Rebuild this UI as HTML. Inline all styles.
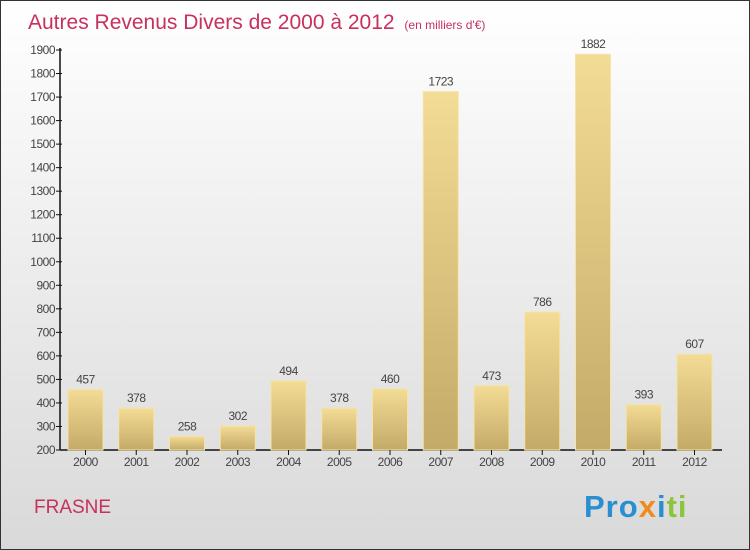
<!DOCTYPE html>
<html><head><meta charset="utf-8"><style>
body{margin:0}
svg{display:block;font-family:"Liberation Sans",sans-serif}
</style></head><body>
<svg id="c" width="750" height="550">
<defs>
<linearGradient id="bg" x1="0" y1="0" x2="0" y2="1"><stop offset="0" stop-color="#ffffff"/><stop offset="1" stop-color="#d9d9d9"/></linearGradient>
<linearGradient id="bar" x1="0" y1="0" x2="0" y2="1"><stop offset="0" stop-color="#f3dc95"/><stop offset="1" stop-color="#c4aa68"/></linearGradient>
</defs>
<rect x="0.5" y="0.5" width="749" height="549" fill="url(#bg)" stroke="#333"/>
<text x="28" y="29" font-size="21" fill="#c8305e">Autres Revenus Divers de 2000 à 2012 <tspan font-size="12" dx="4">(en milliers d'€)</tspan></text>
<text x="34" y="513" font-size="19" fill="#c8305e">FRASNE</text>
<text x="584" y="517" font-size="31" font-weight="bold" letter-spacing="1"><tspan fill="#2a8fd0">Pro</tspan><tspan fill="#f08a1c">x</tspan><tspan fill="#2a8fd0">i</tspan><tspan fill="#8cc43c">ti</tspan></text>
<g id="plot"></g>
</svg>
<script>
const categories=["2000","2001","2002","2003","2004","2005","2006","2007","2008","2009","2010","2011","2012"];
const values=[457,378,258,302,494,378,460,1723,473,786,1882,393,607];
const ticks=[200,300,400,500,600,700,800,900,1000,1100,1200,1300,1400,1500,1600,1700,1800,1900];
const NS="http://www.w3.org/2000/svg";
const g=document.getElementById('plot');
const y=v=>450-(v-200)*400/1700;
const x=i=>85.5+i*50.75;
function mk(t,a){const e=document.createElementNS(NS,t);for(const k in a)e.setAttribute(k,a[k]);g.appendChild(e);return e;}
let ax=mk('line',{x1:60,y1:450,x2:60,y2:48,stroke:'#111','stroke-width':1.5});


let bx=mk('line',{x1:60,y1:450,x2:722,y2:450,stroke:'#111','stroke-width':1.5});


ticks.forEach(t=>{
 const tk=mk('line',{x1:56,x2:62,y1:y(t),y2:y(t),stroke:'#111'});
 
 
 const tl=mk('text',{x:55,y:y(t)+4,'font-size':12,fill:'#444','text-anchor':'end','letter-spacing':'-0.5'});
 tl.textContent=t;
 
 
});
categories.forEach((c,i)=>{
 const r=mk('rect',{x:x(i)-17.5,y:y(values[i]),width:35,height:450-y(values[i]),fill:'url(#bar)',stroke:'#f5e3a8','stroke-width':1});
 
 
 const v=mk('text',{x:x(i),y:y(values[i])-6,'font-size':12,fill:'#444','text-anchor':'middle','letter-spacing':'-0.5'});
 v.textContent=values[i];
 
 
 const tk=mk('line',{x1:x(i),x2:x(i),y1:450,y2:455,stroke:'#111'});
 
 
 const l=mk('text',{x:x(i),y:466,'font-size':12,fill:'#444','text-anchor':'middle','letter-spacing':'-0.5'});
 l.textContent=c;
 
 
});
</script>
</body></html>
